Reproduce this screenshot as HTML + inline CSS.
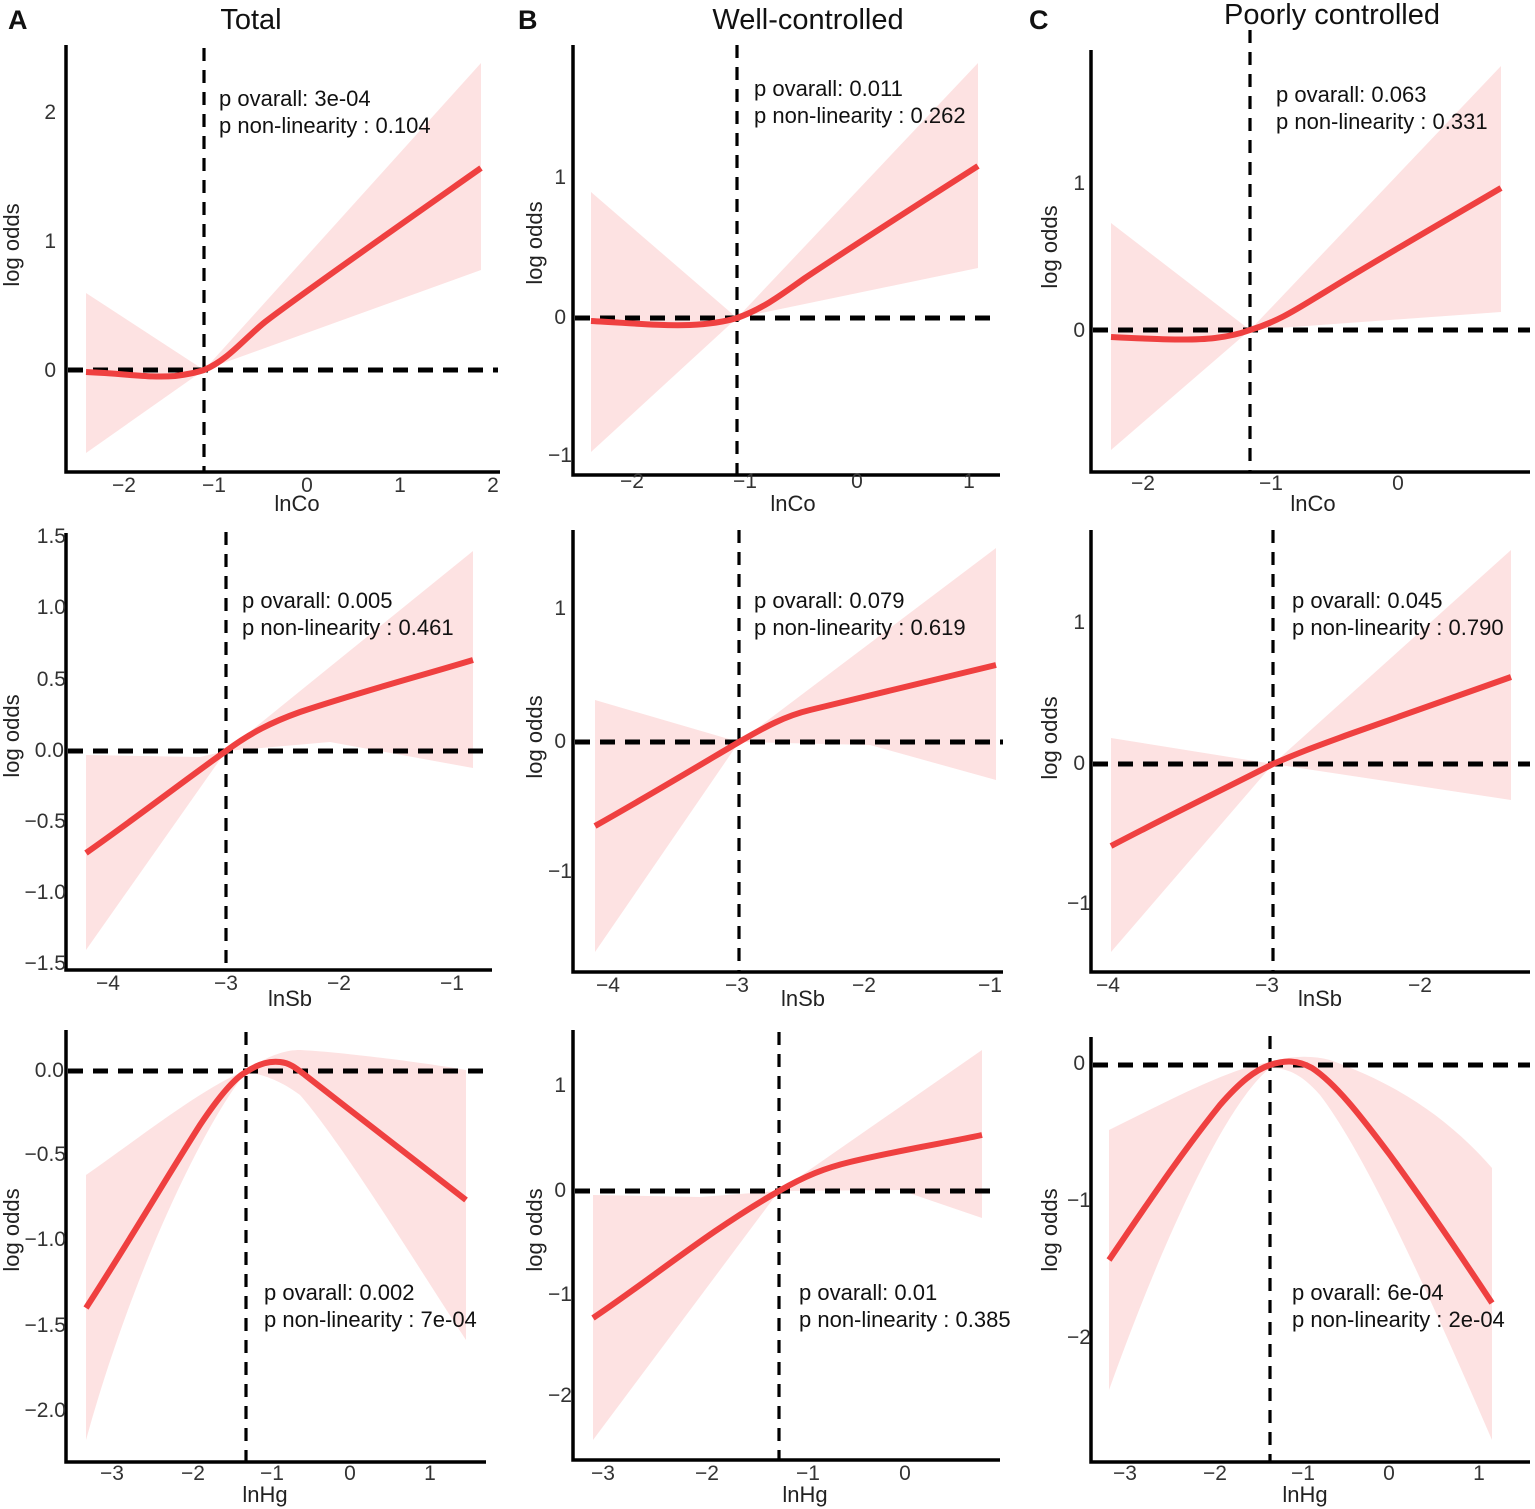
<!DOCTYPE html>
<html><head><meta charset="utf-8"><style>
html,body{margin:0;padding:0;background:#fff}
svg{display:block;font-family:"Liberation Sans",Arial,sans-serif}
.ax{stroke:#000;stroke-width:3.5;fill:none}
.dh{stroke:#000;stroke-width:5;stroke-dasharray:15 10;fill:none}
.dv{stroke:#000;stroke-width:3.2;stroke-dasharray:13 9;fill:none}
.band{fill:#fde2e2;stroke:none}
.cv{stroke:#ef4040;stroke-width:6;fill:none;stroke-linecap:butt}
.ty{font-size:21px;fill:#333;text-anchor:end}
.tx{font-size:21px;fill:#333;text-anchor:middle}
.xl{font-size:22px;fill:#222;text-anchor:middle}
.yl{font-size:22px;fill:#222;text-anchor:middle}
.an{font-size:22px;fill:#111}
.ti{font-size:29px;fill:#111;text-anchor:middle}
.lt{font-size:27px;font-weight:bold;fill:#111}
</style></head><body>
<svg width="1535" height="1509" viewBox="0 0 1535 1509">
<text class="lt" x="8" y="29">A</text>
<text class="ti" x="251" y="29">Total</text>
<text class="lt" x="518" y="29">B</text>
<text class="ti" x="808" y="29">Well-controlled</text>
<text class="lt" x="1029" y="29">C</text>
<text class="ti" x="1332" y="24">Poorly controlled</text>

<!-- ===== A1 ===== -->
<path class="band" d="M86,293 L204,370 L481,63 L481,270 L204,370 L86,453 Z"/>
<line class="dv" x1="204" y1="48" x2="204" y2="472"/>
<line class="dh" x1="68" y1="370" x2="498" y2="370"/>
<path class="cv" d="M86,372 C130,374 150,378 175,376 C190,374 198,372 204,370 C228,360 245,338 265,322 C300,295 400,225 481,168"/>
<path class="ax" d="M66,45 L66,472 L500,472"/>
<text class="ty" x="56" y="119">2</text><text class="ty" x="56" y="248">1</text><text class="ty" x="56" y="377">0</text>
<text class="tx" x="124" y="492">−2</text><text class="tx" x="214" y="492">−1</text><text class="tx" x="307" y="492">0</text><text class="tx" x="400" y="492">1</text><text class="tx" x="493" y="492">2</text>
<text class="xl" x="297" y="511">lnCo</text>
<text class="yl" transform="translate(19,245) rotate(-90)">log odds</text>
<text class="an" x="219" y="106">p ovarall: 3e-04</text>
<text class="an" x="219" y="133">p non-linearity : 0.104</text>

<!-- ===== B1 ===== -->
<path class="band" d="M591,192 L737,318 L978,63 L978,268 L737,318 L591,452 Z"/>
<line class="dv" x1="737" y1="45" x2="737" y2="475"/>
<line class="dh" x1="575" y1="318" x2="1000" y2="318"/>
<path class="cv" d="M591,321 C630,323 660,326 690,325 C712,324 727,321 737,318 C765,308 785,292 805,278 C850,248 920,203 978,166"/>
<path class="ax" d="M573,45 L573,475 L1000,475"/>
<text class="ty" x="566" y="184">1</text><text class="ty" x="566" y="324">0</text><text class="ty" x="572" y="462">−1</text>
<text class="tx" x="632" y="488">−2</text><text class="tx" x="745" y="488">−1</text><text class="tx" x="857" y="488">0</text><text class="tx" x="969" y="488">1</text>
<text class="xl" x="793" y="511">lnCo</text>
<text class="yl" transform="translate(542,243) rotate(-90)">log odds</text>
<text class="an" x="754" y="96">p ovarall: 0.011</text>
<text class="an" x="754" y="123">p non-linearity : 0.262</text>

<!-- ===== C1 ===== -->
<path class="band" d="M1111,223 L1250,330 L1501,66 L1501,312 L1250,330 L1111,450 Z"/>
<line class="dv" x1="1250" y1="30" x2="1250" y2="472"/>
<line class="dh" x1="1093" y1="330" x2="1530" y2="330"/>
<path class="cv" d="M1111,337 C1150,339 1190,341 1215,338 C1232,336 1242,333 1250,330 C1280,321 1300,307 1325,292 C1380,258 1450,218 1501,188"/>
<path class="ax" d="M1091,50 L1091,472 L1530,472"/>
<text class="ty" x="1085" y="190">1</text><text class="ty" x="1085" y="337">0</text>
<text class="tx" x="1143" y="490">−2</text><text class="tx" x="1271" y="490">−1</text><text class="tx" x="1398" y="490">0</text>
<text class="xl" x="1313" y="511">lnCo</text>
<text class="yl" transform="translate(1057,247) rotate(-90)">log odds</text>
<text class="an" x="1276" y="102">p ovarall: 0.063</text>
<text class="an" x="1276" y="129">p non-linearity : 0.331</text>

<!-- ===== A2 ===== -->
<path class="band" d="M86,755 L200,757 L226,751 L473,551 L473,768 L330,742 L226,751 L86,950 Z"/>
<line class="dv" x1="226" y1="532" x2="226" y2="970"/>
<line class="dh" x1="68" y1="751" x2="492" y2="751"/>
<path class="cv" d="M86,853 C140,815 185,780 226,751 C250,733 272,722 300,712 C360,692 420,676 473,660"/>
<path class="ax" d="M66,533 L66,970 L492,970"/>
<text class="ty" x="66" y="543">1.5</text><text class="ty" x="66" y="614">1.0</text><text class="ty" x="66" y="686">0.5</text><text class="ty" x="64" y="757">0.0</text><text class="ty" x="66" y="828">−0.5</text><text class="ty" x="66" y="899">−1.0</text><text class="ty" x="66" y="970">−1.5</text>
<text class="tx" x="108" y="990">−4</text><text class="tx" x="226" y="990">−3</text><text class="tx" x="339" y="990">−2</text><text class="tx" x="452" y="990">−1</text>
<text class="xl" x="290" y="1006">lnSb</text>
<text class="yl" transform="translate(19,736) rotate(-90)">log odds</text>
<text class="an" x="242" y="608">p ovarall: 0.005</text>
<text class="an" x="242" y="635">p non-linearity : 0.461</text>

<!-- ===== B2 ===== -->
<path class="band" d="M595,700 L739,742 L996,548 L996,780 L870,745 L739,742 L595,952 Z"/>
<line class="dv" x1="739" y1="530" x2="739" y2="972"/>
<line class="dh" x1="575" y1="742" x2="1003" y2="742"/>
<path class="cv" d="M595,826 C650,795 700,765 739,742 C765,727 785,716 810,710 C870,695 940,679 996,665"/>
<path class="ax" d="M573,530 L573,972 L1003,972"/>
<text class="ty" x="566" y="615">1</text><text class="ty" x="566" y="748">0</text><text class="ty" x="572" y="878">−1</text>
<text class="tx" x="608" y="992">−4</text><text class="tx" x="737" y="992">−3</text><text class="tx" x="864" y="992">−2</text><text class="tx" x="990" y="992">−1</text>
<text class="xl" x="803" y="1006">lnSb</text>
<text class="yl" transform="translate(542,737) rotate(-90)">log odds</text>
<text class="an" x="754" y="608">p ovarall: 0.079</text>
<text class="an" x="754" y="635">p non-linearity : 0.619</text>

<!-- ===== C2 ===== -->
<path class="band" d="M1111,738 L1273,764 L1511,550 L1511,800 L1273,764 L1111,952 Z"/>
<line class="dv" x1="1273" y1="530" x2="1273" y2="972"/>
<line class="dh" x1="1093" y1="764" x2="1530" y2="764"/>
<path class="cv" d="M1111,846 C1170,815 1230,786 1273,764 C1300,752 1320,745 1350,734 L1511,677"/>
<path class="ax" d="M1091,530 L1091,972 L1530,972"/>
<text class="ty" x="1085" y="629">1</text><text class="ty" x="1085" y="770">0</text><text class="ty" x="1091" y="910">−1</text>
<text class="tx" x="1108" y="992">−4</text><text class="tx" x="1267" y="992">−3</text><text class="tx" x="1420" y="992">−2</text>
<text class="xl" x="1320" y="1006">lnSb</text>
<text class="yl" transform="translate(1057,738) rotate(-90)">log odds</text>
<text class="an" x="1292" y="608">p ovarall:  0.045</text>
<text class="an" x="1292" y="635">p non-linearity : 0.790</text>

<!-- ===== A3 ===== -->
<path class="band" d="M86,1175 C150,1130 200,1090 246,1070 C270,1055 285,1050 300,1050 C340,1052 420,1062 466,1070 L466,1340 C420,1270 340,1140 300,1095 C280,1080 262,1074 246,1072 C200,1130 130,1280 86,1440 Z"/>
<line class="dv" x1="246" y1="1032" x2="246" y2="1462"/>
<line class="dh" x1="68" y1="1071" x2="486" y2="1071"/>
<path class="cv" d="M86,1308 C130,1240 165,1180 200,1125 C220,1095 235,1078 246,1072 C260,1063 270,1061 280,1062 C290,1063 296,1068 305,1075 C360,1118 420,1164 466,1200"/>
<path class="ax" d="M66,1030 L66,1462 L486,1462"/>
<text class="ty" x="64" y="1077">0.0</text><text class="ty" x="66" y="1161">−0.5</text><text class="ty" x="66" y="1246">−1.0</text><text class="ty" x="66" y="1332">−1.5</text><text class="ty" x="66" y="1417">−2.0</text>
<text class="tx" x="112" y="1480">−3</text><text class="tx" x="193" y="1480">−2</text><text class="tx" x="272" y="1480">−1</text><text class="tx" x="350" y="1480">0</text><text class="tx" x="430" y="1480">1</text>
<text class="xl" x="265" y="1502">lnHg</text>
<text class="yl" transform="translate(19,1230) rotate(-90)">log odds</text>
<text class="an" x="264" y="1300">p ovarall: 0.002</text>
<text class="an" x="264" y="1327">p non-linearity : 7e-04</text>

<!-- ===== B3 ===== -->
<path class="band" d="M593,1195 L700,1197 L779,1191 L982,1050 L982,1218 L900,1190 L779,1191 L593,1440 Z"/>
<line class="dv" x1="779" y1="1032" x2="779" y2="1460"/>
<line class="dh" x1="575" y1="1191" x2="1000" y2="1191"/>
<path class="cv" d="M593,1318 C650,1280 710,1230 779,1191 C805,1176 825,1168 850,1162 C900,1150 950,1142 982,1135"/>
<path class="ax" d="M573,1030 L573,1460 L1000,1460"/>
<text class="ty" x="566" y="1092">1</text><text class="ty" x="566" y="1197">0</text><text class="ty" x="572" y="1301">−1</text><text class="ty" x="572" y="1402">−2</text>
<text class="tx" x="603" y="1480">−3</text><text class="tx" x="707" y="1480">−2</text><text class="tx" x="808" y="1480">−1</text><text class="tx" x="905" y="1480">0</text>
<text class="xl" x="805" y="1502">lnHg</text>
<text class="yl" transform="translate(542,1230) rotate(-90)">log odds</text>
<text class="an" x="799" y="1300">p ovarall: 0.01</text>
<text class="an" x="799" y="1327">p non-linearity : 0.385</text>

<!-- ===== C3 ===== -->
<path class="band" d="M1109,1130 C1170,1100 1230,1068 1270,1062 C1290,1056 1310,1055 1330,1060 C1400,1085 1450,1120 1492,1168 L1492,1440 C1440,1320 1370,1160 1320,1095 C1300,1072 1285,1068 1270,1068 C1230,1100 1170,1220 1109,1390 Z"/>
<line class="dv" x1="1270" y1="1036" x2="1270" y2="1462"/>
<line class="dh" x1="1093" y1="1065" x2="1530" y2="1065"/>
<path class="cv" d="M1109,1260 C1150,1200 1180,1155 1220,1105 C1240,1082 1255,1070 1270,1065 C1285,1060 1298,1060 1312,1068 C1335,1083 1360,1115 1390,1155 C1430,1210 1465,1262 1492,1303"/>
<path class="ax" d="M1091,1037 L1091,1462 L1530,1462"/>
<text class="ty" x="1085" y="1070">0</text><text class="ty" x="1091" y="1207">−1</text><text class="ty" x="1091" y="1344">−2</text>
<text class="tx" x="1125" y="1480">−3</text><text class="tx" x="1215" y="1480">−2</text><text class="tx" x="1303" y="1480">−1</text><text class="tx" x="1389" y="1480">0</text><text class="tx" x="1479" y="1480">1</text>
<text class="xl" x="1305" y="1502">lnHg</text>
<text class="yl" transform="translate(1057,1230) rotate(-90)">log odds</text>
<text class="an" x="1292" y="1300">p ovarall: 6e-04</text>
<text class="an" x="1292" y="1327">p non-linearity : 2e-04</text>
</svg>
</body></html>
